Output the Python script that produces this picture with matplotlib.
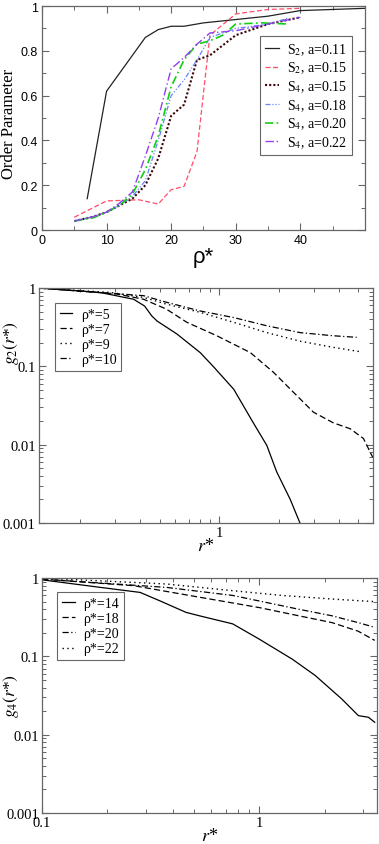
import matplotlib
matplotlib.use("Agg")
import matplotlib.pyplot as plt
import numpy as np
from matplotlib.ticker import FixedLocator, NullFormatter, FuncFormatter, LogLocator

plt.rcParams['font.family'] = ['Liberation Serif', 'DejaVu Serif']
plt.rcParams['mathtext.fontset'] = 'stix'

# ---- panel 1: order parameter vs density
s2_011_x = [7, 10, 12, 14, 16, 18, 20, 22, 25, 30, 35, 40, 45, 50]
s2_011_y = [0.14, 0.62, 0.70, 0.78, 0.86, 0.895, 0.91, 0.91, 0.925, 0.94, 0.955, 0.98, 0.985, 0.99]

s2_015_x = [5, 10, 15, 18, 20, 22, 24, 26, 30, 35, 40]
s2_015_y = [0.057, 0.13, 0.135, 0.116, 0.18, 0.195, 0.35, 0.87, 0.965, 0.985, 0.99]

s4_015_x = [5, 8, 10, 12, 14, 16, 18, 20, 22, 24, 26, 30, 35, 40]
s4_015_y = [0.04, 0.06, 0.08, 0.11, 0.14, 0.2, 0.32, 0.51, 0.56, 0.76, 0.78, 0.87, 0.92, 0.95]

s4_018_x = [5, 8, 10, 12, 14, 16, 18, 20, 22, 24, 26, 30, 35, 38]
s4_018_y = [0.04, 0.06, 0.08, 0.11, 0.15, 0.22, 0.40, 0.60, 0.67, 0.76, 0.86, 0.90, 0.92, 0.945]

s4_020_x = [5, 8, 10, 12, 14, 16, 18, 20, 22, 24, 26, 28, 30, 34, 38]
s4_020_y = [0.04, 0.055, 0.08, 0.11, 0.16, 0.27, 0.42, 0.64, 0.76, 0.83, 0.845, 0.87, 0.92, 0.925, 0.92]

s4_022_x = [5, 8, 10, 12, 14, 16, 18, 20, 22, 24, 26, 30, 35, 40]
s4_022_y = [0.04, 0.06, 0.08, 0.12, 0.17, 0.33, 0.50, 0.72, 0.77, 0.83, 0.88, 0.89, 0.92, 0.95]

# ---- panel 2: g2(r*)
g2_r5_x = [0.124, 0.25, 0.37, 0.42, 0.457, 0.485, 0.61, 0.8, 0.93, 1.18, 1.48, 1.73, 1.94, 2.27, 2.54]
g2_r5_y = [1.0, 0.88, 0.72, 0.59, 0.44, 0.38, 0.26, 0.15, 0.10, 0.051, 0.019, 0.0098, 0.0045, 0.002, 0.001]
g2_r7_x = [0.124, 0.305, 0.415, 0.54, 0.686, 0.97, 1.43, 1.87, 2.35, 2.97, 3.74, 4.54, 5.3, 5.9]
g2_r7_y = [1.0, 0.84, 0.72, 0.54, 0.365, 0.246, 0.15, 0.084, 0.047, 0.026, 0.019, 0.016, 0.012, 0.0069]
g2_r9_x = [0.124, 0.282, 0.415, 0.54, 0.8, 1.18, 1.73, 2.54, 3.74, 5.1]
g2_r9_y = [1.0, 0.88, 0.76, 0.625, 0.49, 0.365, 0.27, 0.21, 0.175, 0.154]
g2_r10_x = [0.124, 0.415, 0.54, 0.8, 1.18, 1.73, 2.54, 3.74, 4.9]
g2_r10_y = [1.0, 0.8, 0.66, 0.51, 0.42, 0.33, 0.27, 0.246, 0.235]

# ---- panel 3: g4(r*)
g4_r14_x = [0.1, 0.186, 0.283, 0.35, 0.46, 0.53, 0.755, 1.0, 1.42, 1.81, 2.4, 2.86, 3.18, 3.4]
g4_r14_y = [0.95, 0.76, 0.656, 0.51, 0.365, 0.33, 0.26, 0.166, 0.092, 0.057, 0.0285, 0.0175, 0.0167, 0.0144]
g4_r18_x = [0.1, 0.264, 0.53, 1.0, 1.52, 2.16, 2.85, 3.4]
g4_r18_y = [0.97, 0.8, 0.57, 0.42, 0.33, 0.27, 0.21, 0.16]
g4_r20_x = [0.1, 0.375, 0.755, 1.07, 1.52, 2.16, 2.85, 3.4]
g4_r20_y = [0.97, 0.76, 0.6, 0.49, 0.4, 0.33, 0.27, 0.235]
g4_r22_x = [0.1, 0.375, 0.755, 1.27, 2.16, 3.4]
g4_r22_y = [1.0, 0.84, 0.69, 0.6, 0.54, 0.5]

frame = '#666666'


def style_frame(ax):
    for sp in ax.spines.values():
        sp.set_color(frame)
        sp.set_linewidth(0.9)
    ax.tick_params(which='both', direction='in', top=True, right=True, color=frame)
    ax.tick_params(which='major', length=5, width=0.8)
    ax.tick_params(which='minor', length=3, width=0.7)


def boxed_legend(ax, anchor, **kw):
    lg = ax.legend(loc='upper left' if anchor[0] < 0.5 else 'upper right',
                   bbox_to_anchor=anchor, borderaxespad=0, fancybox=False,
                   framealpha=1, **kw)
    lg.get_frame().set_edgecolor(frame)
    lg.get_frame().set_linewidth(0.8)
    return lg


fig = plt.figure(figsize=(3.79, 8.45), dpi=100)

# panel 1
ax1 = fig.add_axes([0.1108, 0.7266, 0.852, 0.265])
ax1.plot(s2_011_x, s2_011_y, color='#222222', lw=0.9, label=r'S$_2$, a=0.11')
ax1.plot(s2_015_x, s2_015_y, color='#ff4d6a', lw=0.9, ls=(0, (4, 2)), label=r'S$_2$, a=0.15')
ax1.plot(s4_015_x, s4_015_y, color='#3a0808', lw=1.5, ls=(0, (1, 1)), label=r'S$_4$, a=0.15')
ax1.plot(s4_018_x, s4_018_y, color='#6a82ff', lw=0.9, ls=(0, (4, 1.5, 1, 1.5, 1, 1.5)), label=r'S$_4$, a=0.18')
ax1.plot(s4_020_x, s4_020_y, color='#10d010', lw=1.2, ls=(0, (5, 2, 1, 2)), label=r'S$_4$, a=0.20')
ax1.plot(s4_022_x, s4_022_y, color='#9040f0', lw=1.0, ls=(0, (6, 2, 1, 2)), label=r'S$_4$, a=0.22')
ax1.set_xlim(0, 50)
ax1.set_ylim(0, 1)
ax1.set_xticks([0, 10, 20, 30, 40])
ax1.xaxis.set_minor_locator(FixedLocator([5, 15, 25, 35, 45]))
ax1.set_yticks([0, 0.2, 0.4, 0.6, 0.8, 1.0])
ax1.yaxis.set_minor_locator(FixedLocator([0.1, 0.3, 0.5, 0.7, 0.9]))
ax1.yaxis.set_major_formatter(FuncFormatter(lambda v, p: '%g' % v))
style_frame(ax1)
ax1.tick_params(which='both', pad=3)
for lab in ax1.get_xticklabels() + ax1.get_yticklabels():
    lab.set_family('Liberation Sans')
    lab.set_fontsize(9)
ax1.set_xlabel('ρ*', family='Liberation Sans', fontsize=16, labelpad=0)
ax1.set_ylabel('Order Parameter', fontsize=12)
ax1.yaxis.set_label_coords(-0.078, 0.48)
boxed_legend(ax1, (0.96, 0.866), fontsize=10, handlelength=1.0, handletextpad=0.6,
             borderpad=0.35, labelspacing=0.22)

# panel 2
ax2 = fig.add_axes([0.1016, 0.3799, 0.8826, 0.278])
ax2.plot(g2_r5_x, g2_r5_y, color='black', lw=0.9, label='ρ*=5')
ax2.plot(g2_r7_x, g2_r7_y, color='black', lw=0.9, ls=(0, (5, 2.5)), label='ρ*=7')
ax2.plot(g2_r9_x, g2_r9_y, color='black', lw=1.0, ls=(0, (1, 2.5)), label='ρ*=9')
ax2.plot(g2_r10_x, g2_r10_y, color='black', lw=0.9, ls=(0, (5, 2, 1, 2)), label='ρ*=10')
ax2.set_xscale('log')
ax2.set_yscale('log')
ax2.set_xlim(0.123, 5.92)
ax2.set_ylim(0.001, 1)

# panel 3
ax3 = fig.add_axes([0.1108, 0.0367, 0.883, 0.278])
ax3.plot(g4_r14_x, g4_r14_y, color='black', lw=0.9, label='ρ*=14')
ax3.plot(g4_r18_x, g4_r18_y, color='black', lw=0.9, ls=(0, (5, 2.5)), label='ρ*=18')
ax3.plot(g4_r20_x, g4_r20_y, color='black', lw=0.9, ls=(0, (5, 2, 1, 2)), label='ρ*=20')
ax3.plot(g4_r22_x, g4_r22_y, color='black', lw=1.0, ls=(0, (1, 2.5)), label='ρ*=22')
ax3.set_xscale('log')
ax3.set_yscale('log')
ax3.set_xlim(0.1, 3.47)
ax3.set_ylim(0.001, 1)

panels = [(ax2, r'$g_2(r$*$)$', (-0.052, 0.77), (0.049, 0.936)),
          (ax3, r'$g_4(r$*$)$', (-0.062, 0.5), (0.045, 0.94))]
for ax, ylab, lc, anchor in panels:
    ax.xaxis.set_major_locator(LogLocator(base=10, numticks=10))
    ax.xaxis.set_minor_locator(LogLocator(base=10, subs=np.arange(2, 10), numticks=20))
    ax.yaxis.set_major_locator(LogLocator(base=10, numticks=10))
    ax.yaxis.set_minor_locator(LogLocator(base=10, subs=np.arange(2, 10), numticks=20))
    fmt = FuncFormatter(lambda v, p: '%g' % v)
    ax.xaxis.set_major_formatter(fmt)
    ax.yaxis.set_major_formatter(fmt)
    ax.xaxis.set_minor_formatter(NullFormatter())
    ax.yaxis.set_minor_formatter(NullFormatter())
    style_frame(ax)
    ax.tick_params(which='both', labelsize=10.5, pad=2)
    ax.set_xlabel(r'$r$*', fontsize=13, labelpad=-1)
    ax.set_ylabel(ylab, fontsize=12.5)
    ax.yaxis.set_label_coords(*lc)
    boxed_legend(ax, anchor, fontsize=10, handlelength=0.9, handletextpad=0.6,
                 borderpad=0.36, labelspacing=0.15)

fig.savefig('out.png', dpi=100)
